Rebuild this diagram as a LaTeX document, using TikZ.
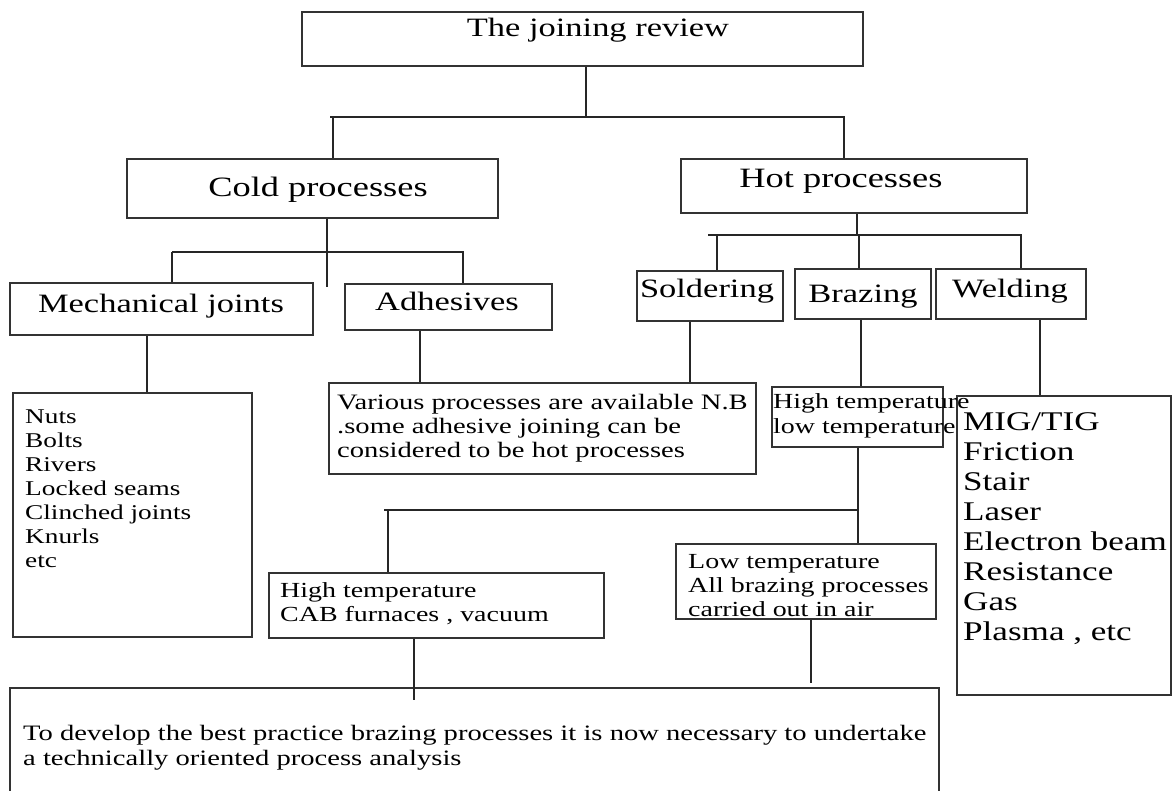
\documentclass[tikz,border=0pt]{standalone}
\usepackage{fontspec}
\setmainfont{Liberation Serif}[FakeStretch=1.3]
\usetikzlibrary{positioning}

\begin{document}
\begin{tikzpicture}[x=1pt,y=-1pt]

            % Define styles
            \tikzstyle{box} = [draw=black!80, line width=1.6pt, inner sep=0pt]
            \tikzstyle{line} = [draw=black!85, line width=1.5pt]
            \tikzstyle{big} = [inner sep=0pt, anchor=base, font=\fontsize{26.5}{30}\selectfont]
            \tikzstyle{head} = [inner sep=0pt, anchor=base, font=\fontsize{28}{32}\selectfont]
            \tikzstyle{small} = [inner sep=0pt, anchor=base west, align=left, font=\fontsize{21.5}{24}\selectfont]
            \tikzstyle{list} = [inner sep=0pt, anchor=base west, align=left, font=\fontsize{27}{30}\selectfont]

            % Page
            \fill[white] (0,0) rectangle (1172,791);
            \useasboundingbox (0,0) rectangle (1172,791);

            % Boxes
            \node[box, minimum width=561, minimum height=54] (review) at (582.5,39) {};
            \node[box, minimum width=371, minimum height=59] (cold) at (312.5,188.5) {};
            \node[box, minimum width=346, minimum height=54] (hot) at (854,186) {};
            \node[box, minimum width=303, minimum height=52] (mech) at (161.5,309) {};
            \node[box, minimum width=207, minimum height=46] (adh) at (448.5,307) {};
            \node[box, minimum width=239, minimum height=244] (nuts) at (132.5,515) {};
            \node[box, minimum width=427, minimum height=91] (various) at (542.5,428.5) {};
            \node[box, minimum width=146, minimum height=50] (sold) at (710,296) {};
            \node[box, minimum width=136, minimum height=50] (braz) at (863,294) {};
            \node[box, minimum width=150, minimum height=50] (weld) at (1011,294) {};
            \node[box, minimum width=171, minimum height=60] (hilo) at (857.5,417) {};
            \node[box, minimum width=214, minimum height=299] (mig) at (1064,545.5) {};
            \node[box, minimum width=335, minimum height=65] (cab) at (436.5,605.5) {};
            \node[box, minimum width=260, minimum height=75] (low) at (806,581.5) {};
            \node[box, minimum width=929, minimum height=112] (practice) at (474.5,744) {};

            % Texts (multi-line ones sit on their last baseline)
            \node[big] (reviewtxt) at (598,37) {The joining review};
            \node[head] (coldtxt) at (318,197) {Cold processes};
            \node[head] (hottxt) at (841,188) {Hot processes};
            \node[big] (mechtxt) at (161,313) {Mechanical joints};
            \node[big] (adhtxt) at (447,311) {Adhesives};
            \node[big] (soldtxt) at (707,298) {Soldering};
            \node[big] (braztxt) at (863,303) {Brazing};
            \node[big] (weldtxt) at (1010,298) {Welding};
            \node[small, font=\fontsize{21}{24}\selectfont] (nutstxt) at (25,567) {Nuts\\Bolts\\Rivers\\Locked seams\\Clinched joints\\Knurls\\etc};
            \node[small, font=\fontsize{22}{24}\selectfont] (varioustxt) at (337,457) {Various processes are available N.B\\.some adhesive joining can be\\considered to be hot processes};
            \node[small, font=\fontsize{21.5}{25}\selectfont] (hilotxt) at (773,433) {High temperature\\low temperature};
            \node[list] (migtxt) at (963,640) {MIG/TIG\\Friction\\Stair\\Laser\\Electron beam\\Resistance\\Gas\\Plasma , etc};
            \node[small] (cabtxt) at (280,621) {High temperature\\CAB furnaces , vacuum};
            \node[small] (lowtxt) at (688,616) {Low temperature\\All brazing processes\\carried out in air};
            \node[small, font=\fontsize{22}{25}\selectfont] (practicetxt) at (23,765) {To develop the best practice brazing processes it is now necessary to undertake\\a technically oriented process analysis};

            % Junctions
            \coordinate (j1) at (586,117);
            \coordinate (j1l) at (330,117);
            \coordinate (j1r) at (844,117);
            \coordinate (xc) at (333,0);
            \coordinate (j2) at (327,252);
            \coordinate (j2end) at (327,287);
            \coordinate (j2l) at (172,252);
            \coordinate (j2r) at (463,252);
            \coordinate (j3) at (857,235);
            \coordinate (j3l) at (708,235);
            \coordinate (j3r) at (1021,235);
            \coordinate (xs) at (717,0);
            \coordinate (xb) at (859,0);
            \coordinate (xm) at (147,0);
            \coordinate (xa) at (420,0);
            \coordinate (xsv) at (690,0);
            \coordinate (xbh) at (861,0);
            \coordinate (xw) at (1040,0);
            \coordinate (xl) at (858,0);
            \coordinate (j4) at (858,510);
            \coordinate (j4l) at (384,510);
            \coordinate (xcab) at (388,0);
            \coordinate (cabend) at (414,700);
            \coordinate (lowend) at (811,683);

            % Connectors
            \draw[line] (review.south -| j1) -- (j1);
            \draw[line] (j1l) -- (j1r) -- (hot.north -| j1r);
            \draw[line] (j1l -| xc) -- (cold.north -| xc);
            \draw[line] (cold.south -| j2) -- (j2end);
            \draw[line] (j2l) -- (j2r) -- (adh.north -| j2r);
            \draw[line] (j2l) -- (mech.north -| j2l);
            \draw[line] (hot.south -| j3) -- (j3);
            \draw[line] (j3l) -- (j3r) -- (weld.north -| j3r);
            \draw[line] (j3l -| xs) -- (sold.north -| xs);
            \draw[line] (j3l -| xb) -- (braz.north -| xb);
            \draw[line] (mech.south -| xm) -- (nuts.north -| xm);
            \draw[line] (adh.south -| xa) -- (various.north -| xa);
            \draw[line] (sold.south -| xsv) -- (various.north -| xsv);
            \draw[line] (braz.south -| xbh) -- (hilo.north -| xbh);
            \draw[line] (weld.south -| xw) -- (mig.north -| xw);
            \draw[line, line width=2.6pt] (hilo.south -| xl) -- (low.north -| xl);
            \draw[line] (j4) -- (j4l);
            \draw[line] (j4l -| xcab) -- (cab.north -| xcab);
            \draw[line] (cab.south -| cabend) -- (cabend);
            \draw[line] (low.south -| lowend) -- (lowend);

        \end{tikzpicture}
\end{document}
